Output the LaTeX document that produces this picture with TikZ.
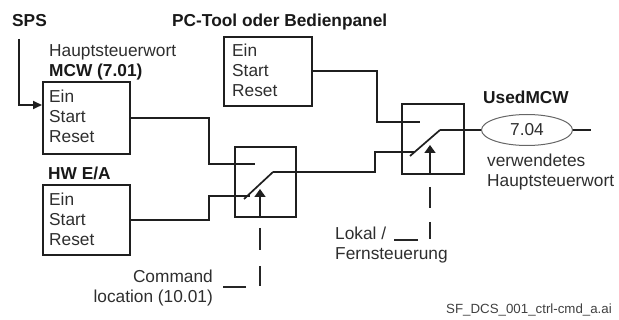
\documentclass[tikz,border=0pt]{standalone}
\usepackage{fontspec}
\setmainfont{Liberation Sans}
\usetikzlibrary{arrows.meta,shapes.geometric}
\begin{document}
\begin{tikzpicture}[x=1pt,y=-1pt,
  ln/.style={line width=1.7pt, draw=black!88},
  bx/.style={ln, rectangle, inner sep=0pt, anchor=north west},
  txt/.style={inner sep=0pt, text=black!82, font=\fontsize{17.3}{20}\selectfont},
  btxt/.style={inner sep=0pt, text=black!90, font=\fontsize{17.3}{20}\selectfont\bfseries},
  dsh/.style={line width=1.5pt, draw=black!85},
  tip/.style={-{Triangle[width=11pt,length=8pt]}}
]
\useasboundingbox (0,0) rectangle (619,320);
% headings
\node[btxt, anchor=base west] (sps) at (12,27) {SPS};
\node[btxt, anchor=base west] (pct) at (172,27) {PC-Tool oder Bedienpanel};
\node[txt, anchor=base west] (hsw) at (49,57) {Hauptsteuerwort};
\node[btxt, anchor=base west] (mcwl) at (49,77) {MCW (7.01)};
\node[btxt, anchor=base west] (hwl) at (48,180) {HW E/A};
% boxes
\node[bx, minimum width=87pt, minimum height=72pt] (mcw) at (42,81) {};
\node[bx, minimum width=87pt, minimum height=70pt] (hw) at (42,184) {};
\node[bx, minimum width=88pt, minimum height=69pt] (pc) at (223,36) {};
\node[bx, minimum width=61pt, minimum height=70pt] (sw1) at (234,146) {};
\node[bx, minimum width=62pt, minimum height=70pt] (sw2) at (401,103) {};
% box texts
\node[txt, anchor=base west] (m1) at (49,103) {Ein};
\node[txt, anchor=base west] (m2) at (49,123) {Start};
\node[txt, anchor=base west] (m3) at (49,143) {Reset};
\node[txt, anchor=base west] (h1) at (49,206) {Ein};
\node[txt, anchor=base west] (h2) at (49,226) {Start};
\node[txt, anchor=base west] (h3) at (49,246) {Reset};
\node[txt, anchor=base west] (p1) at (232,57) {Ein};
\node[txt, anchor=base west] (p2) at (232,77) {Start};
\node[txt, anchor=base west] (p3) at (232,97) {Reset};
% output
\node[btxt, anchor=base west] (used) at (483,104) {UsedMCW};
\node[ellipse, draw=black!60, line width=1pt, minimum width=91pt, minimum height=31pt, inner sep=0pt, txt] (ell) at (527,130) {7.04};
\node[txt, anchor=base west] (v1) at (487,167) {verwendetes};
\node[txt, anchor=base west] (v2) at (487,187) {Hauptsteuerwort};
% dashed labels
\node[txt, anchor=base east] (c1) at (213,283) {Command};
\node[txt, anchor=base east] (c2) at (213,303) {location (10.01)};
\node[txt, anchor=base west] (l1) at (335,240) {Lokal /};
\node[txt, anchor=base west] (l2) at (335,260) {Fernsteuerung};
\node[anchor=base east, inner sep=0pt, text=black!75, font=\fontsize{13.3}{15}\selectfont] (fn) at (612,314) {SF\_DCS\_001\_ctrl-cmd\_a.ai};
% coordinates
\coordinate (spsA) at (19,39);
\coordinate (mcwIn) at (42,105);
\coordinate (s1up) at (255,164);
\coordinate (s1lo) at (250,196);
\coordinate (s1piv) at (244,199);
\coordinate (s1out) at (273,172);
\coordinate (s2up) at (420,122);
\coordinate (s2lo) at (414,152);
\coordinate (s2piv) at (410,156);
\coordinate (s2out) at (440,130);
\coordinate (a1) at (260,216);
\coordinate (a1t) at (260,189);
\coordinate (a2) at (430,173);
\coordinate (a2t) at (430,145);
\coordinate (d1) at (222,287);
\coordinate (d2) at (393,240);
% connectors
\draw[ln, -{Triangle[width=8pt,length=9pt]}] (spsA) |- (mcwIn);
\draw[ln] (mcw.east) -- ++(78,0) |- (s1up);
\draw[ln] (hw.east) -- ++(78,0) |- (s1lo);
\draw[ln] (s1piv) -- (s1out);
\draw[ln] (s1out) -- ++(102,0) |- (s2lo);
\draw[ln] (pc.east) -- ++(64,0) |- (s2up);
\draw[ln] (s2piv) -- (s2out);
\draw[ln] (s2out) -- (ell.west);
\draw[ln] (ell.east) -- ++(18,0) coordinate (endR);
\draw[ln, tip] (a1) -- (a1t);
\draw[ln, tip] (a2) -- (a2t);
\draw[dsh, dash pattern=on 0pt off 12pt on 22pt off 16pt on 20pt off 15pt on 23pt off 60pt] (a1) |- (d1);
\draw[dsh, dash pattern=on 0pt off 14pt on 21pt off 14pt on 17pt off 13pt on 24pt off 60pt] (a2) |- (d2);
\end{tikzpicture}
\end{document}
